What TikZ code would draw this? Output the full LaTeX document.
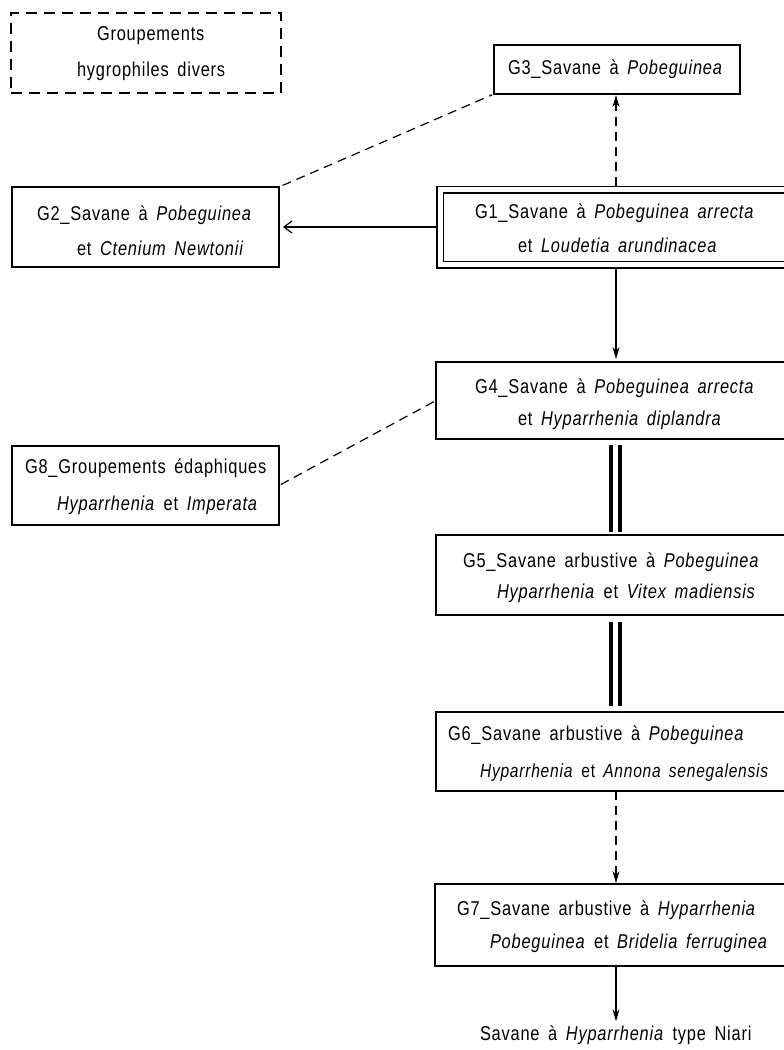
\documentclass[tikz,border=0pt]{standalone}
\usepackage{fontspec}
\setmainfont{Liberation Sans}[FakeStretch=0.82,LetterSpace=4,WordSpace=1.6]
\usetikzlibrary{arrows.meta}
\begin{document}
\begin{tikzpicture}[x=1pt,y=-1pt,
  box/.style={draw,line width=1.5pt,inner sep=0pt,outer sep=0pt,rectangle},
  dbox/.style={box,dash pattern=on 11pt off 7pt},
  txt/.style={anchor=base west,inner sep=0pt,outer sep=0pt,font=\fontsize{20}{24}\selectfont},
  conn/.style={line width=1.2pt},
  dconn/.style={conn,dash pattern=on 9pt off 6pt},
  head/.style={-{Stealth[length=12pt,width=7pt]}},
  openhead/.style={-{Straight Barb[length=8pt,width=12pt,line width=1.2pt]}},
  bar/.style={line width=3.8pt},
]
\useasboundingbox (0,0) rectangle (784,1050);
\fill[white] (0,0) rectangle (784,1050);
\clip (0,0) rectangle (784,1050);

% columns
\coordinate (col) at (616,0);
\coordinate (barL) at (611,0);
\coordinate (barR) at (620,0);

% boxes
\node[dbox,minimum width=270pt,minimum height=80pt] (hyg) at (146,53) {};
\node[box,minimum width=246pt,minimum height=49pt] (g3) at (617,69.5) {};
\node[box,minimum width=267pt,minimum height=80pt] (g2) at (145.5,227) {};
\node[box,double,double distance=5pt,line width=1.5pt,outer sep=4pt,
      minimum width=360pt,minimum height=75pt] (g1) at (620,227) {};
\node[box,minimum width=364pt,minimum height=77pt] (g4) at (618,400.5) {};
\node[box,minimum width=267pt,minimum height=79pt] (g8) at (145.5,485.5) {};
\node[box,minimum width=364pt,minimum height=80pt] (g5) at (618,575) {};
\node[box,minimum width=364pt,minimum height=79pt] (g6) at (618,751.5) {};
\node[box,minimum width=365pt,minimum height=82pt] (g7) at (617.5,925) {};

% texts
\node[txt] (th1) at (97,40) {Groupements};
\node[txt] (th2) at (77,76) {hygrophiles divers};
\node[txt] (t3a) at (508,74) {G3\_Savane à \textit{Pobeguinea}};
\node[txt] (t1a) at (475,218) {G1\_Savane à \textit{Pobeguinea arrecta}};
\node[txt] (t1b) at (518,252) {et \textit{Loudetia arundinacea}};
\node[txt] (t2a) at (37,220) {G2\_Savane à \textit{Pobeguinea}};
\node[txt] (t2b) at (77,255) {et \textit{Ctenium Newtonii}};
\node[txt] (t4a) at (475,393) {G4\_Savane à \textit{Pobeguinea arrecta}};
\node[txt] (t4b) at (518,425) {et \textit{Hyparrhenia diplandra}};
\node[txt] (t8a) at (25,473) {G8\_Groupements édaphiques};
\node[txt] (t8b) at (57,510) {\textit{Hyparrhenia} et \textit{Imperata}};
\node[txt] (t5a) at (463,567) {G5\_Savane arbustive à \textit{Pobeguinea}};
\node[txt] (t5b) at (497,598) {\textit{Hyparrhenia} et \textit{Vitex madiensis}};
\node[txt] (t6a) at (448,740) {G6\_Savane arbustive à \textit{Pobeguinea}};
\node[txt,font=\fontsize{19}{24}\selectfont] (t6b) at (480,777) {\textit{Hyparrhenia} et \textit{Annona senegalensis}};
\node[txt] (t7a) at (457,915) {G7\_Savane arbustive à \textit{Hyparrhenia}};
\node[txt] (t7b) at (490,948) {\textit{Pobeguinea} et \textit{Bridelia ferruginea}};
\node[txt] (fin) at (480,1040) {Savane à \textit{Hyparrhenia} type Niari};

% connectors
\draw[conn,openhead,shorten >=4pt] (g1.west |- g2.east) -- (g2.east);
\draw[dconn,head,shorten >=1pt] (g1.north -| col) -- (g3.south -| col);
\draw[conn,head,shorten >=3pt] (g1.south -| col) -- (g4.north -| col);
\draw[bar,shorten <=6pt,shorten >=3pt] (g4.south -| barL) -- (g5.north -| barL);
\draw[bar,shorten <=6pt,shorten >=3pt] (g4.south -| barR) -- (g5.north -| barR);
\draw[bar,shorten <=7pt,shorten >=6pt] (g5.south -| barL) -- (g6.north -| barL);
\draw[bar,shorten <=7pt,shorten >=6pt] (g5.south -| barR) -- (g6.north -| barR);
\draw[dconn,head,shorten >=1pt] (g6.south -| col) -- (g7.north -| col);
\draw[conn,head,shorten >=4pt] (g7.south -| col) -- (fin.north -| col);
\draw[dconn,shorten <=4pt,shorten >=2pt] (g2.north east) -- (g3.south west);
\draw[dconn,shorten <=2pt] (g8.east) -- (g4.west);
\end{tikzpicture}
\end{document}
